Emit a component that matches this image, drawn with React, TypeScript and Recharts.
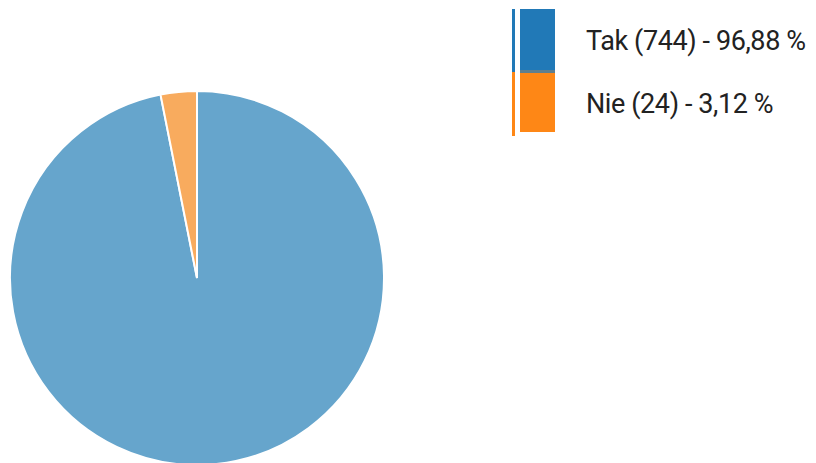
import { Pie, PieChart, Cell } from 'recharts';

const labels = ['Tak', 'Nie'];
const counts = [744, 24];
const percents = ['96,88', '3,12'];
const sliceColors = ['#66a5cc', '#f8ab5e'];
const legendColors = ['#2179b7', '#fe8716'];

const chartData = labels.map((name, i) => ({ name, value: counts[i] }));

const LegendBox = () => (
  <div style={{ position: 'absolute', left: 500, top: 0, width: 316, height: 140, fontFamily: 'Roboto, sans-serif' }}>
    <div style={{ position: 'absolute', left: 12, top: 9, width: 3, height: 63, background: legendColors[0] }} />
    <div style={{ position: 'absolute', left: 12, top: 72, width: 3, height: 64, background: legendColors[1] }} />
    <div style={{ position: 'absolute', left: 20, top: 9, width: 35, height: 61, background: legendColors[0] }} />
    <div style={{ position: 'absolute', left: 20, top: 70, width: 35, height: 3, background: '#5f7f8f' }} />
    <div style={{ position: 'absolute', left: 20, top: 73, width: 35, height: 59, background: legendColors[1] }} />
    {labels.map((name, i) => (
      <div
        key={name}
        style={{
          position: 'absolute',
          left: 86,
          top: i === 0 ? 25 : 88,
          fontSize: 27,
          lineHeight: 'normal',
          letterSpacing: -0.4,
          color: '#222',
          whiteSpace: 'nowrap',
        }}
      >
        {`${name} (${counts[i]}) - ${percents[i]} %`}
      </div>
    ))}
  </div>
);

const App = () => (
  <div style={{ position: 'fixed', left: 0, top: 0, width: 816, height: 463, background: '#fff' }}>
    <PieChart width={816} height={463}>
      <Pie
        data={chartData}
        dataKey="value"
        nameKey="name"
        cx={192}
        cy={273}
        outerRadius={187}
        startAngle={90}
        endAngle={-270}
        stroke="#fff"
        strokeWidth={2}
        isAnimationActive={false}
      >
        {chartData.map((entry, i) => (
          <Cell key={entry.name} fill={sliceColors[i]} />
        ))}
      </Pie>
    </PieChart>
    <LegendBox />
  </div>
);

export default App;
